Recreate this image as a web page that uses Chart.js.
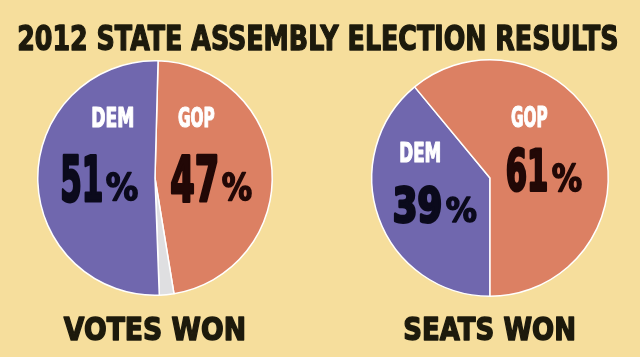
<!DOCTYPE html>
<html><head><meta charset="utf-8">
<script src="https://cdn.jsdelivr.net/npm/chart.js@4.4.1/dist/chart.umd.min.js"></script>
<style>
html,body{margin:0;padding:0;background:#f6de9c;}
#wrap{position:relative;width:640px;height:357px;overflow:hidden;background:#f6de9c;}
canvas{position:absolute;left:0;top:0;}
</style></head>
<body><div id="wrap"><canvas id="c1" width="640" height="357"></canvas><canvas id="c2" width="640" height="357"></canvas></div>
<script>
const TITLE = "2012 STATE ASSEMBLY ELECTION RESULTS";
const voteParties = ["GOP", "Other", "DEM"];
const voteShares = [47, 2, 51];
const seatParties = ["DEM", "GOP"];
const seatShares = [39, 61];
const panelTitles = ["VOTES WON", "SEATS WON"];

const COLORS = {DEM: "#7067ae", GOP: "#dc8063", Other: "#dfdfe1"};
const NUMCOL = {DEM: "#0b0a1c", GOP: "#220806"};
const NARROW = '"Liberation Sans Narrow", "DejaVu Sans Condensed", "DejaVu Sans", sans-serif';
const WIDE = '"DejaVu Sans", sans-serif';

function fitText(ctx, text, family, x0, x1, yTop, yBot, color, lw) {
  lw = lw || 0;
  const h = lw / 2;
  x0 += h; x1 -= h; yTop += h; yBot -= h;
  ctx.save();
  ctx.font = `bold 100px ${family}`;
  let m = ctx.measureText(text);
  const size = 100 * (yBot - yTop) / m.actualBoundingBoxAscent;
  ctx.font = `bold ${size}px ${family}`;
  m = ctx.measureText(text);
  const w = m.actualBoundingBoxRight + m.actualBoundingBoxLeft;
  const sx = (x1 - x0) / w;
  ctx.translate(x0, yBot);
  ctx.scale(sx, 1);
  ctx.fillStyle = color;
  ctx.strokeStyle = color;
  ctx.lineJoin = 'round';
  ctx.textAlign = 'left';
  ctx.textBaseline = 'alphabetic';
  ctx.fillText(text, m.actualBoundingBoxLeft, 0);
  if (lw) {
    ctx.lineWidth = lw;
    ctx.scale(1 / sx, 1);
    ctx.scale(sx, 1);
    ctx.strokeText(text, m.actualBoundingBoxLeft, 0);
  }
  ctx.restore();
}

// label layout boxes (page px) keyed by party, per panel
const layouts = [
  {
    title: [63, 245, 315, 341],
    DEM: {name: [92, 134, 107, 128], num: [61, 103, 153, 202], pct: [106, 138, 172, 201]},
    GOP: {name: [178, 215, 107, 128], num: [170, 218, 153, 202], pct: [222, 252, 172, 201]}
  },
  {
    title: [404, 575, 315, 341],
    DEM: {name: [400, 441, 142, 163], num: [393, 442, 184, 223], pct: [445, 477, 196, 223]},
    GOP: {name: [511, 548, 106, 128], num: [506, 548, 146, 192], pct: [552, 582, 163, 192]}
  }
];

function labelPlugin(panel, parties, shares, drawTitle) {
  return {
    id: 'labels' + panel,
    afterDraw(chart) {
      const ctx = chart.ctx;
      const L = layouts[panel];
      parties.forEach((p, i) => {
        if (!L[p]) return;
        const b = L[p];
        fitText(ctx, p, NARROW, b.name[0], b.name[1], b.name[2], b.name[3], '#ffffff', 1.2);
        fitText(ctx, String(shares[i]), NARROW, b.num[0], b.num[1], b.num[2], b.num[3], NUMCOL[p], 3);
        fitText(ctx, '%', NARROW, b.pct[0], b.pct[1], b.pct[2], b.pct[3], NUMCOL[p], 1.5);
      });
      const t = L.title;
      fitText(ctx, panelTitles[panel], WIDE, t[0], t[1], t[2], t[3], '#1d1a0c', 1.6);
      if (drawTitle) fitText(ctx, TITLE, WIDE, 18, 618, 25, 51, '#1d1a0c', 1.4);
    }
  };
}

function makePie(id, parties, shares, rotation, pad, panel, drawTitle) {
  return new Chart(document.getElementById(id), {
    type: 'pie',
    data: {
      labels: parties,
      datasets: [{
        data: shares,
        backgroundColor: parties.map(p => COLORS[p]),
        borderColor: '#ffffff',
        borderWidth: 1.5,
        hoverOffset: 0
      }]
    },
    options: {
      responsive: false,
      animation: false,
      devicePixelRatio: 1,
      rotation: rotation,
      layout: {padding: pad},
      plugins: {legend: {display: false}, tooltip: {enabled: false}}
    },
    plugins: [labelPlugin(panel, parties, shares, drawTitle)]
  });
}

makePie('c1', voteParties, voteShares, 1.5, {left: 37, top: 60, right: 367, bottom: 61}, 0, true);
makePie('c2', seatParties, seatShares, 180, {left: 371, top: 59, right: 31, bottom: 60}, 1, false);
</script>
</body></html>
